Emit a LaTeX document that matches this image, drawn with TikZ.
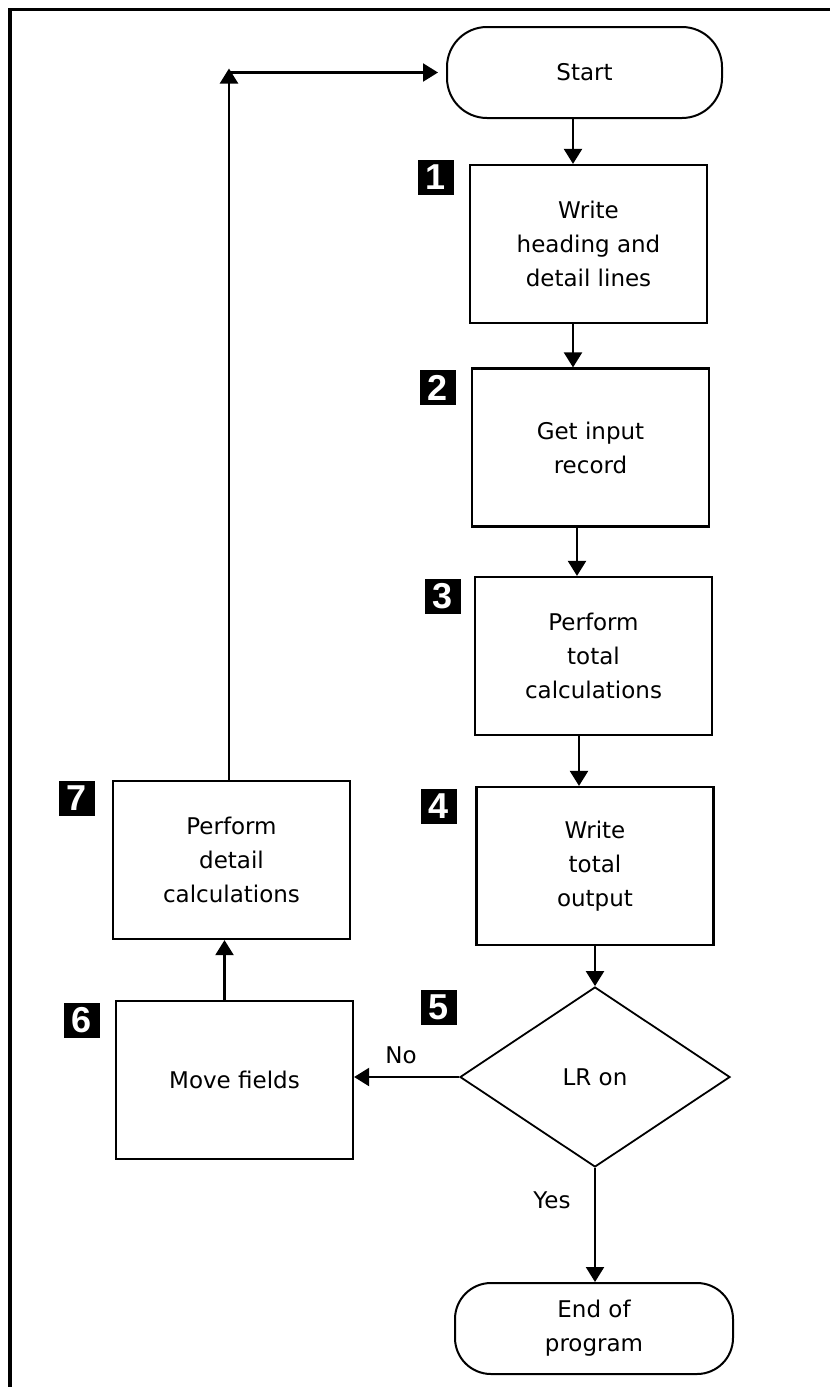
\documentclass[tikz,border=0pt]{standalone}
\usepackage{fontspec}
\setmainfont{DejaVu Sans}
\newfontfamily\badgefont{Liberation Sans}
\usetikzlibrary{arrows.meta,shapes.geometric}
\begin{document}
\begin{tikzpicture}[x=1pt,y=-1pt,
  txt/.style={font=\fontsize{23}{34}\selectfont},
  box/.style={draw, line width=2.2pt, minimum width=237pt, minimum height=158pt,
              align=center, inner sep=0pt, txt},
  term/.style={draw, line width=2pt, rounded corners=40pt, minimum height=91pt,
               align=center, inner sep=0pt, txt},
  decision/.style={draw, shape=diamond, line width=1.8pt, minimum width=270pt,
                   minimum height=180pt, inner sep=0pt, txt},
  badge/.style={fill=black, text=white, minimum width=36pt, minimum height=35pt,
                inner sep=0pt, font=\badgefont\bfseries\fontsize{36}{36}\selectfont},
  arr/.style={-{Triangle[width=18pt,length=15pt]}, line width=2.2pt},
  lbl/.style={txt, inner sep=0pt}]
\useasboundingbox (0,0) rectangle (830,1387);
% frame
\draw[line width=3.5pt] (830,9.5) -- (10,9.5) -- (10,1387);

% nodes
\node[term, minimum width=275pt] (start) at (584.5,72.5) {Start};
\node[box] (b1) at (588.5,244) {Write\\heading and\\detail lines};
\node[box] (b2) at (590.5,447.5) {Get input\\record};
\node[box] (b3) at (593.5,656) {Perform\\total\\calculations};
\node[box] (b4) at (595,866) {Write\\total\\output};
\node[decision] (dia) at (595,1077) {LR on};
\node[box] (b6) at (234.5,1080) {Move fields};
\node[box] (b7) at (231.5,860) {Perform\\detail\\calculations};
\node[term, minimum width=278pt, rounded corners=36pt] (end) at (594,1328.5) {End of\\program};

% badges
\node[badge] (n1) at (435.5,177.5) {1};
\node[badge] (n2) at (437.5,387.5) {2};
\node[badge] (n3) at (442.5,596) {3};
\node[badge] (n4) at (438.5,806.5) {4};
\node[badge] (n5) at (438.5,1007.5) {5};
\node[badge] (n6) at (81.5,1020) {6};
\node[badge] (n7) at (76.5,798.5) {7};

% labels
\node[lbl] (no) at (401,1055) {No};
\node[lbl] (yes) at (552,1200) {Yes};

% connectors
\draw[arr] ([xshift=-11.5pt]start.south) -- ([xshift=-11.5pt]start.south |- b1.north);
\draw[arr] ([xshift=-15.5pt]b1.south) -- ([xshift=-15.5pt]b1.south |- b2.north);
\draw[arr] ([xshift=-13.5pt]b2.south) -- ([xshift=-13.5pt]b2.south |- b3.north);
\draw[arr] ([xshift=-14.5pt]b3.south) -- ([xshift=-14.5pt]b3.south |- b4.north);
\draw[arr] (b4.south) -- (dia.north);
\draw[arr] (dia.south) -- (dia.south |- end.north);
\draw[arr] (dia.west) -- (dia.west -| b6.east);
\draw[arr] ([xshift=-10pt]b6.north) -- ([xshift=-10pt]b6.north |- b7.south);
\coordinate (corner) at ([xshift=-2.5pt]b7.north |- start.west);
\draw[arr] ([xshift=-2.5pt]b7.north) -- ([yshift=4pt]corner);
\draw[arr] (corner) -- ([xshift=-8pt]start.west);
\end{tikzpicture}
\end{document}
